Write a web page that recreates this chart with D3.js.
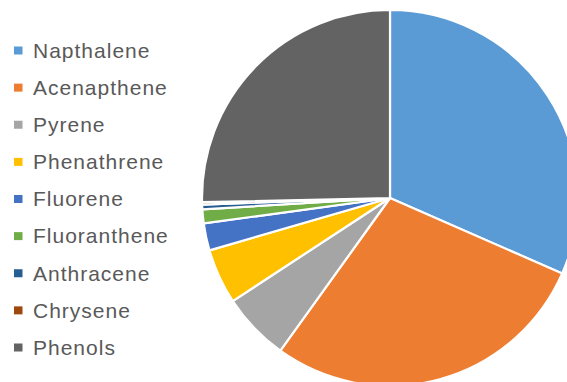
<!DOCTYPE html>
<html><head><meta charset="utf-8">
<script src="https://cdn.jsdelivr.net/npm/d3@7"></script>
<style>html,body{margin:0;padding:0;background:#fff;overflow:hidden}</style>
</head><body>
<svg id="c" width="567" height="382"></svg>
<script>
const categories = ["Napthalene","Acenapthene","Pyrene","Phenathrene","Fluorene","Fluoranthene","Anthracene","Chrysene","Phenols"];
const values = [31.44, 28.22, 5.83, 4.72, 2.33, 1.19, 0.4, 0.2, 25.25];
const colors = ["#5B9BD5","#ED7D31","#A5A5A5","#FFC000","#4472C4","#70AD47","#255E91","#9E480E","#636363"];

const svg = d3.select("#c");
const data = categories.map((c,i)=>({name:c, value:values[i], color:colors[i]}));
const pie = d3.pie().value(d=>d.value).sort(null);
const arc = d3.arc().innerRadius(0).outerRadius(188);
const g = svg.append("g").attr("transform","translate(390,198)");
g.selectAll("path").data(pie(data)).join("path")
  .attr("d",arc).attr("fill",d=>d.data.color)
  .attr("stroke","#fff").attr("stroke-width",2.2).attr("stroke-linejoin","round");

const ly = d3.scalePoint().domain(categories).range([50.5, 347.5]);
const lg = svg.append("g");
const row = lg.selectAll("g").data(data).join("g")
  .attr("transform",d=>`translate(0,${ly(d.name)})`);
row.append("rect").attr("x",14).attr("y",-4).attr("width",8.5).attr("height",8).attr("fill",d=>d.color);
row.append("text").attr("x",33).attr("y",0).attr("dy","0.35em")
  .attr("font-family","Liberation Sans, Arial, sans-serif").attr("font-size",21)
  .attr("letter-spacing",1).attr("fill","#595959")
  .text(d=>d.name);
</script>
</body></html>
